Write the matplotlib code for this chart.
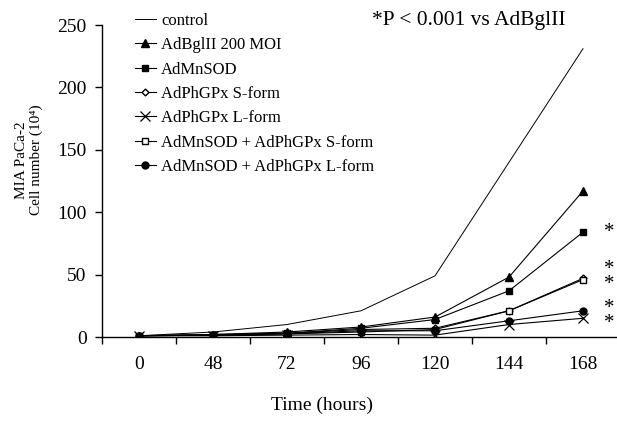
import matplotlib.pyplot as plt
import numpy as np

plt.rcParams['font.family'] = ['Liberation Serif', 'DejaVu Serif']

times = ['0', '48', '72', '96', '120', '144', '168']
control = [1, 4, 10, 21, 49, 140, 231]
adbgl = [1, 2, 4, 8, 16, 48, 117]
admnsod = [1, 2, 3, 7, 14, 37, 84]
phgpx_s = [1, 1.5, 3, 6, 7, 21, 47]
phgpx_l = [1, 1, 1.5, 2, 1.5, 10, 15]
mnsod_s = [1, 1.5, 2.5, 4, 6, 21, 46]
mnsod_l = [1, 1.5, 2.5, 5, 5, 13, 21]

# significance stars right of the 168 h points
star_y = [84, 48, 17]
star_txt = ['*', '*\n*', '*\n*']

fig = plt.figure(figsize=(6.17, 4.22), dpi=100)
ax = fig.add_axes([102/617, 85/422, 518/617, 312/422])

x = np.arange(len(times))
lw = 0.8
ax.plot(x, control, color='black', lw=0.7, label='control')
ax.plot(x, adbgl, color='black', lw=lw, marker='^', ms=6, label='AdBglII 200 MOI')
ax.plot(x, admnsod, color='black', lw=lw, marker='s', ms=5, label='AdMnSOD')
ax.plot(x, phgpx_s, color='black', lw=lw, marker='D', ms=3.5, mfc='white', label='AdPhGPx S-form')
ax.plot(x, phgpx_l, color='black', lw=lw, marker='x', ms=7, mew=0.9, label='AdPhGPx L-form')
ax.plot(x, mnsod_s, color='black', lw=lw, marker='s', ms=5, mfc='white', label='AdMnSOD + AdPhGPx S-form')
ax.plot(x, mnsod_l, color='black', lw=lw, marker='o', ms=5, label='AdMnSOD + AdPhGPx L-form')

ax.set_xlim(-0.5, 6.5)
ax.set_ylim(0, 250)
ax.set_yticks([0, 50, 100, 150, 200, 250])
ax.set_xticks(x)
ax.set_xticklabels(times)
ax.set_xticks(np.arange(-0.5, 7, 1), minor=True)
ax.tick_params(axis='x', which='major', length=0, labelsize=14, pad=14)
ax.tick_params(axis='x', which='minor', length=5, direction='out', width=1)
ax.tick_params(axis='y', length=5, direction='out', width=1, labelsize=14, pad=6)
for s in ['top', 'right']:
    ax.spines[s].set_visible(False)
ax.spines['left'].set_linewidth(1)
ax.spines['bottom'].set_linewidth(1)

for yv, t in zip(star_y, star_txt):
    ax.text(6.36, yv, t, fontsize=15, ha='center', va='center', linespacing=0.72)

ax.text(4.46, 254, '*P < 0.001 vs AdBglII', fontsize=15.5, ha='center', va='center')

ax.legend(loc='upper left', bbox_to_anchor=(0.05, 1.06), frameon=False, fontsize=12,
          handlelength=1.3, handletextpad=0.3, labelspacing=0.5, borderaxespad=0)

fig.text(29/617, 1 - 160/422, 'MIA PaCa-2\nCell number (10⁴)', rotation=90, fontsize=11,
         ha='center', va='center', multialignment='center', linespacing=1.1)
fig.text(322/617, 1 - 405/422, 'Time (hours)', fontsize=14, ha='center', va='center')

fig.savefig('out.png', dpi=100)
